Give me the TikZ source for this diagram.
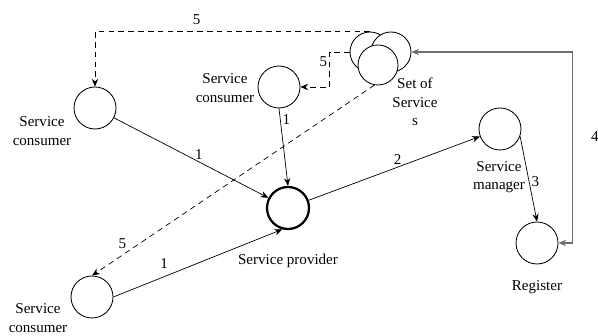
\documentclass[tikz,border=0pt]{standalone}
\usepackage{fontspec}
\setmainfont{Liberation Serif}
\usetikzlibrary{
  arrows.meta,
  positioning,
  calc
}
\definecolor{feedback}{RGB}{110,110,110}

\begin{document}
\begin{tikzpicture}[
  actor/.style={draw, circle, fill=white, minimum size=1.05cm, inner sep=0pt, line width=0.6pt},
  member/.style={draw, circle, fill=white, minimum size=1.0cm, inner sep=0pt, line width=0.6pt},
  desc/.style={font=\fontsize{10.7}{13}\selectfont, align=center, inner sep=0pt},
  num/.style={font=\fontsize{10.7}{13}\selectfont, inner sep=1.5pt},
  flow/.style={->, line width=0.5pt},
  reply/.style={->, dashed, dash pattern=on 4pt off 3pt, line width=0.5pt},
  >={Stealth[length=5.5pt, width=4.5pt]}
]
\useasboundingbox (0,0) rectangle (14.95,8.4);

\node[actor] (cleft)  at (2.375, 5.7)   {};
\node[actor] (cmid)   at (6.975, 6.225) {};
\node[actor] (clow)   at (2.3, 0.975)   {};
\node[actor, line width=1.6pt] (prov) at (7.2, 3.2) {};
\node[actor] (mgr)    at (12.5, 5.175)  {};
\node[actor] (reg)    at (13.425, 2.325) {};

% set of services
\node[member] (ssL) at (9.25, 7.1)   {};
\node[member] (ssR) at (9.775, 7.1)  {};
\node[member] (ssF) at (9.45, 6.775) {};

\node[desc] at (1.05, 5.125)   {Service\\consumer};
\node[desc] at (5.625, 6.2)    {Service\\consumer};
\node[desc] at (0.95, 0.45)    {Service\\consumer};
\node[desc] at (10.375, 5.85)  {Set of\\Service\\s};
\node[desc] at (12.475, 3.975) {Service\\manager};
\node[desc, below=0.6cm] at (prov.south) {Service provider};
\node[desc, below=0.4cm] at (reg.south) {Register};

% requests
\draw[flow] (cleft) -- node[num, pos=0.55, above] {1} (prov);
\draw[flow] (cmid.south) -- node[num, pos=0.14, right] {1} (prov.north);
\draw[flow] (clow.east) -- node[num, pos=0.3, above=4pt] {1} (prov.-105);
\draw[flow] (prov) -- node[num, pos=0.52, above] {2} (mgr);
\draw[flow] (mgr.-20) -- node[num, pos=0.53, right] {3} (reg.north);
\draw[<->, draw=feedback, line width=1pt] (reg.east) -- ++(0.35,0) |- (ssR.east);
\node[num] (four) at (14.87, 4.975) {4};

% answers
\draw[reply] (ssL.north) -| node[num, pos=0.315, above=3pt] {5} (cleft.north);
\draw[reply] (ssL.west) -- ++(-0.5,0) |- node[num, pos=0.14, left] {5} (cmid.east);
\draw[reply] (ssF.-100) -- node[num, pos=0.87, above left] {5} (clow.north);

\end{tikzpicture}
\end{document}
